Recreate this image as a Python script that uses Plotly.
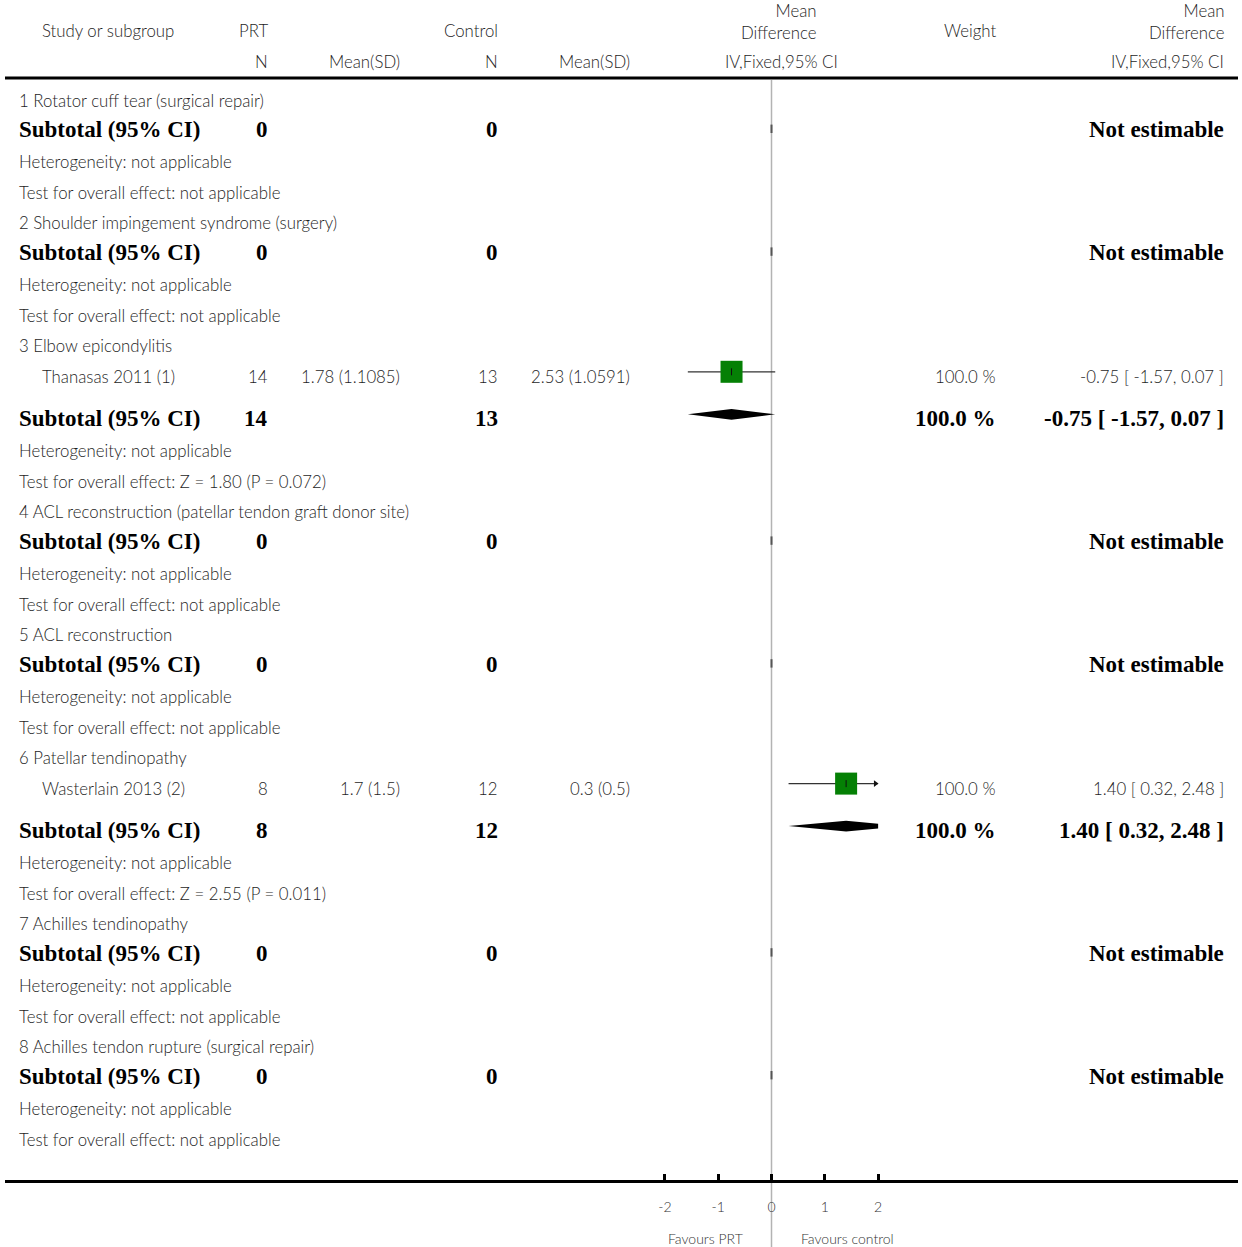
import plotly.graph_objects as go

# ---------------- data ----------------
group_titles = [
    "1 Rotator cuff tear (surgical repair)",
    "2 Shoulder impingement syndrome (surgery)",
    "3 Elbow epicondylitis",
    "4 ACL reconstruction (patellar tendon graft donor site)",
    "5 ACL reconstruction",
    "6 Patellar tendinopathy",
    "7 Achilles tendinopathy",
    "8 Achilles tendon rupture (surgical repair)",
]
subtotal_prt_n = [0, 0, 14, 0, 0, 8, 0, 0]
subtotal_ctl_n = [0, 0, 13, 0, 0, 12, 0, 0]
subtotal_weight = [None, None, 100.0, None, None, 100.0, None, None]
subtotal_md = [None, None, -0.75, None, None, 1.40, None, None]
subtotal_lo = [None, None, -1.57, None, None, 0.32, None, None]
subtotal_hi = [None, None, 0.07, None, None, 2.48, None, None]
test_z = [None, None, 1.80, None, None, 2.55, None, None]
test_p = [None, None, "0.072", None, None, "0.011", None, None]

study_names = ["Thanasas 2011 (1)", "Wasterlain 2013 (2)"]
study_group = [2, 5]
study_prt_n = [14, 8]
study_prt_mean = [1.78, 1.7]
study_prt_sd = [1.1085, 1.5]
study_ctl_n = [13, 12]
study_ctl_mean = [2.53, 0.3]
study_ctl_sd = [1.0591, 0.5]
study_md = [-0.75, 1.40]
study_lo = [-1.57, 0.32]
study_hi = [0.07, 2.48]
study_weight = [100.0, 100.0]

tick_vals = [-2, -1, 0, 1, 2]
tick_text = ["-2", "-1", "0", "1", "2"]
favours_left = "Favours PRT"
favours_right = "Favours control"

# ---------------- layout constants ----------------
W, H = 1242, 1247
X0_PX = 771.5
PX_PER_UNIT = 53.3
XMIN, XMAX = -2, 2


def px2x(p):
    return (p - X0_PX) / PX_PER_UNIT


def xp(p):
    return p / W


SANS = "Lato"
SERIF = "Liberation Serif"
TXT = "#1e1e1e"
FS = 16.8
FSB = 23
MARK_DY = -4.5
PAD = 2

ann = []


def text(x_px, y, s, anchor="left", bold=False, size=None, color=None, family=None):
    if anchor == "left":
        x_px -= PAD
    elif anchor == "right":
        x_px += PAD
    font = dict(family=family or (SERIF if bold else SANS),
                size=size or (FSB if bold else FS),
                color=color or ("#000" if bold else TXT))
    font["weight"] = "bold" if bold else 300
    ann.append(dict(
        x=xp(x_px), y=y, xref="paper", yref="y", text=s, align=anchor if anchor != "center" else "center",
        showarrow=False, xanchor=anchor, yanchor="middle", font=font,
    ))


fig = go.Figure()

# headers
text(42, 30, "Study or subgroup")
text(268, 30, "PRT", "right")
text(498, 30, "Control", "right")
text(816, 21, "Mean<br>Difference", "right")
text(996, 30, "Weight", "right")
text(1224, 21, "Mean<br>Difference", "right")
text(268, 61, "N", "right")
text(400, 61, "Mean(SD)", "right")
text(498, 61, "N", "right")
text(630, 61, "Mean(SD)", "right")
text(781, 61, "IV,Fixed,95% CI", "center")
text(1224, 61, "IV,Fixed,95% CI", "right")


def add_diamond(y, md, lo, hi, h=5.4):
    xs, ys = [], []
    lo_c = max(lo, XMIN)
    hi_c = min(hi, XMAX)
    if lo < XMIN:
        hl = h * (md - XMIN) / (md - lo)
        xs += [lo_c, lo_c]
        ys += [y + hl, y - hl]
    else:
        xs.append(lo_c)
        ys.append(y)
    xs.append(md)
    ys.append(y - h)
    if hi > XMAX:
        hr = h * (hi - XMAX) / (hi - md)
        xs += [hi_c, hi_c]
        ys += [y - hr, y + hr]
    else:
        xs.append(hi_c)
        ys.append(y)
    xs.append(md)
    ys.append(y + h)
    xs.append(xs[0])
    ys.append(ys[0])
    fig.add_trace(go.Scatter(x=xs, y=ys, mode="lines", fill="toself", fillcolor="#000",
                             line=dict(width=0, color="#000"), hoverinfo="skip"))


def add_study(y, md, lo, hi):
    lo_c = max(lo, XMIN)
    hi_c = min(hi, XMAX)
    fig.add_trace(go.Scatter(x=[lo_c, hi_c], y=[y, y], mode="lines",
                             line=dict(color="#333", width=1.2), hoverinfo="skip"))
    fig.add_trace(go.Scatter(x=[md], y=[y], mode="markers",
                             marker=dict(symbol="square", size=22, color="#058005",
                                         line=dict(width=0)), hoverinfo="skip"))
    fig.add_trace(go.Scatter(x=[md], y=[y], mode="markers",
                             marker=dict(symbol="line-ns", size=5,
                                         line=dict(width=1, color="#111")), hoverinfo="skip"))
    if hi > XMAX:
        fig.add_trace(go.Scatter(x=[XMAX - 0.05], y=[y], mode="markers",
                                 marker=dict(symbol="triangle-right", size=6, color="#111"),
                                 hoverinfo="skip"))
    if lo < XMIN:
        fig.add_trace(go.Scatter(x=[XMIN + 0.05], y=[y], mode="markers",
                                 marker=dict(symbol="triangle-left", size=6, color="#111"),
                                 hoverinfo="skip"))


empty_ticks_y = []
y = 100.0
for g, title in enumerate(group_titles):
    text(19, y, title)
    idx = [i for i, sg in enumerate(study_group) if sg == g]
    if idx:
        for i in idx:
            y += 30.7
            text(42, y, study_names[i])
            text(268, y, str(study_prt_n[i]), "right")
            text(400, y, f"{study_prt_mean[i]} ({study_prt_sd[i]})", "right")
            text(497, y, str(study_ctl_n[i]), "right")
            text(630, y, f"{study_ctl_mean[i]} ({study_ctl_sd[i]})", "right")
            text(996, y, f"{study_weight[i]:.1f} %", "right")
            text(1224, y, f"{study_md[i]:.2f} [ {study_lo[i]:.2f}, {study_hi[i]:.2f} ]", "right")
            add_study(y + MARK_DY, study_md[i], study_lo[i], study_hi[i])
        y += 42.5
    else:
        y += 29.8
    text(19, y, "Subtotal (95% CI)", bold=True)
    text(268, y, str(subtotal_prt_n[g]), "right", bold=True)
    text(498, y, str(subtotal_ctl_n[g]), "right", bold=True)
    if subtotal_md[g] is None:
        text(1224, y, "Not estimable", "right", bold=True)
        empty_ticks_y.append(y - 1)
    else:
        text(996, y, f"{subtotal_weight[g]:.1f} %", "right", bold=True)
        text(1224, y, f"{subtotal_md[g]:.2f} [ {subtotal_lo[g]:.2f}, {subtotal_hi[g]:.2f} ]",
             "right", bold=True)
        add_diamond(y + MARK_DY, subtotal_md[g], subtotal_lo[g], subtotal_hi[g])
    y += 32
    text(19, y, "Heterogeneity: not applicable")
    y += 30.8
    if test_z[g] is None:
        text(19, y, "Test for overall effect: not applicable")
    else:
        text(19, y, f"Test for overall effect: Z = {test_z[g]:.2f} (P = {test_p[g]})")
    y += 30.2

fig.add_trace(go.Scatter(x=[0] * len(empty_ticks_y), y=empty_ticks_y, mode="markers",
                         marker=dict(symbol="line-ns", size=6, line=dict(width=2, color="#555")),
                         hoverinfo="skip"))

text(705, 1238, favours_left, "center", size=14, color="#333")
text(847, 1238, favours_right, "center", size=14, color="#333")

shapes = [
    dict(type="line", xref="paper", yref="y", x0=xp(5), x1=xp(1238), y0=78, y1=78,
         line=dict(color="#000", width=3)),
    dict(type="line", xref="x", yref="y", x0=0, x1=0, y0=80, y1=H,
         line=dict(color="#b3b3b3", width=1.5), layer="below"),
]

fig.update_layout(
    width=W, height=H,
    margin=dict(l=0, r=0, t=0, b=0),
    paper_bgcolor="white", plot_bgcolor="white",
    showlegend=False,
    annotations=ann,
    shapes=shapes,
    xaxis=dict(
        domain=[xp(5), xp(1238)],
        range=[px2x(5), px2x(1238)],
        anchor="free", position=1 - 1181 / H,
        showline=True, linecolor="#000", linewidth=3,
        ticks="inside", ticklen=6, tickwidth=3, tickcolor="#000",
        tickvals=tick_vals, ticktext=tick_text,
        tickfont=dict(family=SANS, size=14, color="#333", weight=300),
        ticklabelstandoff=12,
        showgrid=False, zeroline=False, fixedrange=True,
    ),
    yaxis=dict(domain=[0, 1], range=[H, 0], visible=False, fixedrange=True),
)

fig.write_html("out.html", config={"displayModeBar": False},
               post_script="document.body.style.margin='0px';document.body.style.overflow='hidden';")
